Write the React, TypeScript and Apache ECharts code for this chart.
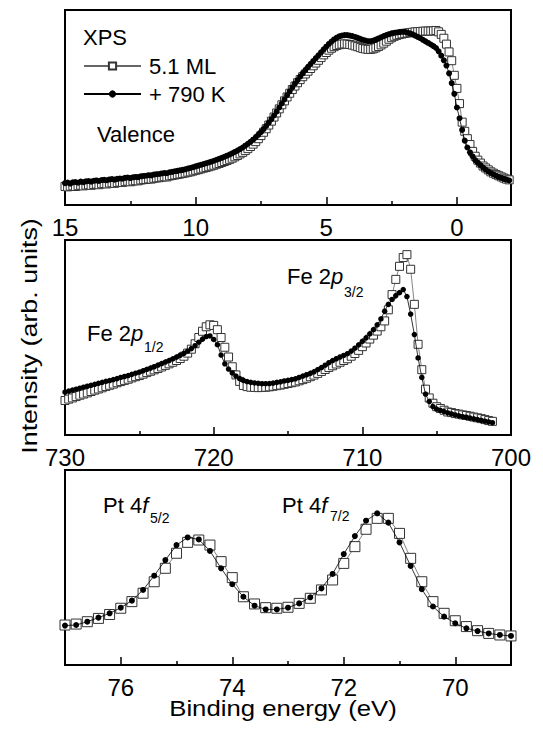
import React, { useEffect, useRef } from "react";
import * as echarts from "echarts";

const FONT = '"Liberation Sans", Arial, Helvetica, sans-serif';

// ---------- Valence band (binding energy 15 -> -2.1 eV, step 0.1 eV) ----------
const valenceStart = 15;
const valenceStep = 0.1;
const valence51ML = [
  9.5, 9.3, 9.6, 9.8, 9.5, 9.9, 10.1, 9.8, 10.2, 10.4, 10.1,
  10.5, 10.7, 10.4, 10.9, 11.0, 10.8, 11.2, 11.4, 11.1, 11.5,
  11.7, 11.6, 12.0, 12.2, 11.9, 12.3, 12.5, 12.4, 12.8, 13.0,
  13.1, 13.4, 13.3, 13.7, 13.9, 14.0, 14.3, 14.5, 14.4, 14.9,
  15.1, 15.4, 15.6, 15.9, 16.1, 16.4, 16.8, 17.0, 17.4, 17.8,
  18.1, 18.5, 18.9, 19.2, 19.6, 20.0, 20.4, 20.9, 21.3, 21.8,
  22.3, 22.8, 23.4, 24.0, 24.7, 25.4, 26.2, 27.0, 27.9, 28.9,
  30.0, 31.2, 32.5, 34.0, 35.6, 37.3, 39.1, 41.0, 43.0, 45.1,
  47.2, 49.3, 51.4, 53.4, 55.4, 57.3, 59.2, 61.0, 62.7, 64.3,
  65.8, 67.2, 68.6, 70.0, 71.4, 72.8, 74.2, 75.6, 77.0, 78.2,
  79.4, 80.4, 81.2, 81.8, 82.2, 82.5, 82.6, 82.5, 82.3, 82.0,
  81.6, 81.2, 80.7, 80.3, 80.0, 79.8, 79.8, 80.1, 80.6, 81.3,
  82.1, 83.0, 84.0, 85.0, 85.8, 86.5, 87.0, 87.4, 87.7, 88.0,
  88.2, 88.4, 88.6, 88.8, 88.9, 89.0, 89.1, 89.2, 89.2, 89.2,
  89.3, 89.5, 88.8, 87.5, 85.5, 82.5, 78.5, 74.0, 66.5, 59.8,
  52.0, 42.5, 37.8, 34.0, 31.0, 27.5, 25.0, 23.0, 21.5, 20.0,
  19.0, 18.0, 17.0, 16.3, 15.6, 15.0, 14.4, 13.8, 13.3, 12.9, 12.6,
];
const valence790K = [
  11.2, 11.5, 11.0, 11.6, 11.8, 11.4, 12.0, 11.7, 12.1, 12.3, 12.0,
  12.4, 12.6, 12.3, 12.8, 12.9, 12.7, 13.1, 13.3, 13.0, 13.4,
  13.6, 13.5, 13.9, 14.1, 13.8, 14.2, 14.4, 14.3, 14.7, 14.9,
  15.0, 15.3, 15.2, 15.6, 15.8, 15.9, 16.2, 16.4, 16.3, 16.8,
  17.0, 17.3, 17.5, 17.8, 18.0, 18.3, 18.7, 19.0, 19.4, 19.8,
  20.2, 20.6, 21.0, 21.4, 21.8, 22.2, 22.7, 23.2, 23.7, 24.2,
  24.7, 25.3, 25.9, 26.5, 27.2, 27.9, 28.7, 29.5, 30.4, 31.4,
  32.4, 33.5, 34.7, 36.0, 37.4, 38.9, 40.5, 42.2, 44.0, 45.9,
  47.9, 50.0, 52.1, 54.2, 56.3, 58.3, 60.3, 62.2, 64.0, 65.8,
  67.5, 69.1, 70.7, 72.3, 73.8, 75.3, 76.8, 78.3, 79.8, 81.2,
  82.6, 83.8, 84.9, 85.8, 86.5, 86.9, 87.1, 87.1, 86.9, 86.6,
  86.2, 85.7, 85.2, 84.7, 84.3, 84.0, 84.0, 84.3, 84.8, 85.4,
  86.0, 86.6, 87.1, 87.6, 88.0, 88.3, 88.5, 88.7, 88.8, 88.8,
  88.4, 88.0, 87.5, 86.9, 86.2, 85.5, 84.7, 83.9, 83.1, 82.3,
  81.5, 80.5, 78.8, 76.6, 74.2, 71.5, 67.5, 62.5, 57.0, 50.0,
  44.5, 38.5, 33.0, 29.5, 27.0, 25.0, 23.0, 21.7, 20.4, 19.2,
  18.2, 17.2, 16.4, 15.7, 15.0, 14.4, 13.9, 13.4, 13.0, 12.6, 12.2,
];

// ---------- Fe 2p (730 -> 701.25 eV, step 0.25 eV) ----------
const fe2pStart = 730;
const fe2pStep = 0.25;
const fe2p51ML = [
  17.7, 18.4, 19.0, 19.7, 20.4, 21.0, 21.6, 22.3, 23.0, 23.6,
  24.2, 24.9, 25.5, 26.1, 26.8, 27.4, 28.0, 28.6, 29.3, 29.9,
  30.5, 31.2, 32.0, 32.7, 33.4, 34.1, 34.9, 35.7, 36.5, 37.3,
  38.2, 39.2, 40.4, 42.0, 44.0, 46.8, 50.0, 53.2, 55.5, 56.5,
  56.2, 54.0, 50.0, 45.0, 40.0, 35.0, 30.8, 27.5, 25.4, 24.8,
  24.5, 24.4, 24.3, 24.4, 24.5, 24.7, 25.0, 25.3, 25.6, 26.0,
  26.4, 26.8, 27.2, 27.8, 28.4, 29.1, 29.9, 30.7, 31.6, 32.6,
  33.6, 34.6, 35.5, 36.4, 37.3, 38.2, 39.1, 40.4, 41.8, 43.4,
  45.3, 47.2, 49.2, 51.2, 53.3, 55.5, 58.5, 64.2, 72.0, 79.8,
  86.5, 91.0, 92.5, 85.0, 67.0, 46.5, 33.5, 23.5, 19.0, 16.3,
  14.5, 13.6, 12.7, 11.8, 11.5, 11.0, 10.7, 10.3, 10.0, 9.6,
  9.2, 8.8, 8.4, 7.9, 7.4, 7.0,
];
const fe2p790K = [
  22.0, 22.5, 23.0, 23.5, 24.0, 24.5, 25.0, 25.5, 26.0, 26.5,
  27.0, 27.5, 27.9, 28.4, 28.9, 29.5, 30.0, 30.5, 31.1, 31.7,
  32.2, 32.9, 33.6, 34.3, 35.0, 35.8, 36.6, 37.4, 38.2, 39.0,
  39.9, 40.9, 41.9, 43.0, 44.3, 45.8, 47.6, 49.2, 50.5, 50.8,
  49.0, 46.3, 41.0, 36.5, 33.8, 31.8, 30.2, 28.9, 28.0, 27.4,
  27.0, 26.7, 26.5, 26.3, 26.3, 26.4, 26.6, 27.0, 27.3, 27.7,
  28.0, 28.4, 28.8, 29.5, 30.2, 30.9, 31.6, 32.4, 33.5, 34.6,
  35.8, 37.1, 38.2, 39.1, 40.0, 40.8, 41.7, 43.0, 44.5, 46.2,
  48.0, 49.8, 51.8, 54.0, 56.5, 59.5, 63.5, 67.0, 69.5, 71.5,
  73.0, 74.6, 71.0, 62.0, 51.5, 39.5, 29.5, 21.0, 17.2, 14.6,
  13.3, 12.6, 12.0, 11.3, 10.8, 10.3, 9.8, 9.4, 9.1, 8.7,
  8.3, 7.9, 7.5, 7.1, 6.7, 6.3,
];

// ---------- Pt 4f (77 -> 69 eV, step 0.2 eV) ----------
const pt4fStart = 77;
const pt4fStep = 0.2;
const pt4f51ML = [
  20.5, 21.0, 22.2, 23.9, 25.9, 29.1, 32.5, 36.8, 42.7, 49.6,
  57.3, 62.9, 64.1, 61.5, 53.0, 44.8, 35.0, 31.3, 29.4, 29.1,
  29.6, 31.6, 34.2, 38.5, 43.6, 52.1, 60.7, 69.6, 75.2, 75.2,
  67.5, 54.7, 42.7, 32.5, 26.5, 22.7, 19.7, 17.6, 16.2, 15.4,
  14.9,
];
const pt4f790K = [
  20.2, 20.5, 22.2, 24.3, 26.5, 29.4, 33.0, 38.5, 45.8, 53.8,
  61.5, 65.4, 64.4, 58.5, 49.6, 41.4, 35.0, 30.4, 28.5, 28.5,
  29.4, 31.6, 34.7, 39.3, 46.7, 56.9, 66.1, 74.0, 77.8, 73.0,
  62.9, 50.8, 38.9, 30.0, 24.8, 21.4, 18.8, 17.4, 16.2, 15.4,
  14.9,
];

// ---------- Axes: ranges, labels and ticks ----------
const valenceRange = [-2.07, 15];
const valenceLabels = [15, 10, 5, 0];
const valenceMajorTicks = [10, 5, 0];
const valenceMinorTicks = [12.5, 7.5, 2.5];

const fe2pRange = [700, 730];
const fe2pLabels = [730, 720, 710, 700];
const fe2pMajorTicks = [720, 710];
const fe2pMinorTicks = [725, 715, 705];

const pt4fRange = [69, 77];
const pt4fLabels = [76, 74, 72, 70];
const pt4fMajorTicks = [76, 74, 72, 70];
const pt4fMinorTicks = [75, 73, 71];

const seriesNames = ["5.1 ML", "+ 790 K"];

function pairs(start: number, step: number, vals: number[]) {
  return vals.map((v, i) => [Number((start - i * step).toFixed(3)), v]);
}

function axisPair(gridIndex: number, range: number[], labels: number[], major: number[], minor: number[]) {
  const base = {
    type: "value",
    gridIndex,
    position: "bottom",
    min: range[0],
    max: range[1],
    inverse: true,
    axisLine: { show: false },
    splitLine: { show: false },
  };
  return [
    {
      ...base,
      axisTick: { show: true, inside: true, length: 8, lineStyle: { color: "#000", width: 1.5 }, customValues: major },
      axisLabel: {
        show: true,
        customValues: labels,
        margin: 10,
        fontSize: 24,
        fontFamily: FONT,
        color: "#000",
      },
    },
    {
      ...base,
      axisTick: { show: true, inside: true, length: 4, lineStyle: { color: "#000", width: 1.5 }, customValues: minor },
      axisLabel: { show: false },
    },
  ];
}

function squareSeries(xAxisIndex: number, yAxisIndex: number, data: number[][], size: number) {
  return {
    name: seriesNames[0],
    type: "line",
    xAxisIndex,
    yAxisIndex,
    data,
    showAllSymbol: true,
    symbol: "rect",
    symbolSize: size,
    itemStyle: { color: "#fff", borderColor: "#333", borderWidth: 1 },
    lineStyle: { color: "#666", width: 0.8 },
    silent: true,
    z: 2,
  };
}

function dotSeries(xAxisIndex: number, yAxisIndex: number, data: number[][], size: number) {
  return {
    name: seriesNames[1],
    type: "line",
    xAxisIndex,
    yAxisIndex,
    data,
    showAllSymbol: true,
    symbol: "circle",
    symbolSize: size,
    itemStyle: { color: "#000" },
    lineStyle: { color: "#000", width: 0.8 },
    silent: true,
    z: 3,
  };
}

function txt(text: string, x: number, y: number, size: number, extra: any = {}) {
  return {
    type: "text",
    x,
    y,
    silent: true,
    z: 10,
    style: {
      text,
      fontSize: size,
      fontFamily: FONT,
      fill: "#000",
      align: "left",
      verticalAlign: "middle",
      ...extra,
    },
  };
}

function richLabel(main: string, italic: string, x: number, y: number) {
  return {
    type: "text",
    x,
    y,
    silent: true,
    z: 10,
    style: {
      text: main + "{i|" + italic + "}",
      fontSize: 22,
      fontFamily: FONT,
      fill: "#000",
      align: "left",
      verticalAlign: "middle",
      rich: { i: { fontSize: 22, fontFamily: FONT, fontStyle: "italic", fill: "#000" } },
    },
  };
}

export default function App() {
  const ref = useRef<HTMLDivElement>(null);
  useEffect(() => {
    if (!ref.current) return;
    const chart = echarts.init(ref.current, null, { renderer: "svg" });
    const grid = (top: number) => ({
      left: 65,
      top,
      width: 446,
      height: 195,
      show: true,
      borderColor: "#000",
      borderWidth: 2,
      backgroundColor: "transparent",
    });
    const option: any = {
      animation: false,
      backgroundColor: "#fff",
      grid: [grid(10), grid(240), grid(470)],
      xAxis: [
        ...axisPair(0, valenceRange, valenceLabels, valenceMajorTicks, valenceMinorTicks),
        ...axisPair(1, fe2pRange, fe2pLabels, fe2pMajorTicks, fe2pMinorTicks),
        ...axisPair(2, pt4fRange, pt4fLabels, pt4fMajorTicks, pt4fMinorTicks),
      ],
      yAxis: [0, 1, 2].map((g) => ({ type: "value", gridIndex: g, min: 0, max: 100, show: false })),
      legend: {
        show: true,
        orient: "vertical",
        left: 78,
        top: 50,
        padding: 5,
        itemWidth: 57,
        itemHeight: 9,
        itemGap: 6,
        selectedMode: false,
        textStyle: { fontSize: 22, fontFamily: FONT, color: "#000", padding: [0, 0, 0, 3] },
        data: seriesNames,
      },
      series: [
        squareSeries(0, 0, pairs(valenceStart, valenceStep, valence51ML), 8),
        dotSeries(0, 0, pairs(valenceStart, valenceStep, valence790K), 6),
        squareSeries(2, 1, pairs(fe2pStart, fe2pStep, fe2p51ML), 8),
        dotSeries(2, 1, pairs(fe2pStart, fe2pStep, fe2p790K), 5.5),
        squareSeries(4, 2, pairs(pt4fStart, pt4fStep, pt4f51ML), 10),
        dotSeries(4, 2, pairs(pt4fStart, pt4fStep, pt4f790K), 6),
      ],
      graphic: [
        txt("XPS", 83, 37.5, 22),
        txt("Valence", 97, 134.5, 22),
        richLabel("Fe 2", "p", 287, 276),
        txt("3/2", 344, 292, 14),
        richLabel("Fe 2", "p", 87, 333),
        txt("1/2", 144, 347, 14),
        richLabel("Pt 4", "f", 103, 505),
        txt("5/2", 150, 517.5, 14),
        richLabel("Pt 4", "f", 282, 505),
        txt("7/2", 330, 516, 14),
        {
          type: "text",
          x: 29,
          y: 336,
          rotation: Math.PI / 2,
          scaleX: 1.22,
          silent: true,
          style: {
            text: "Intensity (arb. units)",
            fontSize: 22,
            fontFamily: FONT,
            fill: "#000",
            align: "center",
            verticalAlign: "middle",
          },
        },
        {
          type: "text",
          x: 283,
          y: 708,
          scaleX: 1.12,
          silent: true,
          style: {
            text: "Binding energy (eV)",
            fontSize: 23,
            fontFamily: FONT,
            fill: "#000",
            align: "center",
            verticalAlign: "middle",
          },
        },
      ],
    };
    chart.setOption(option);
    return () => chart.dispose();
  }, []);
  return (
    <div
      ref={ref}
      style={{ position: "absolute", left: 0, top: 0, width: 543, height: 731, background: "#fff" }}
    />
  );
}
